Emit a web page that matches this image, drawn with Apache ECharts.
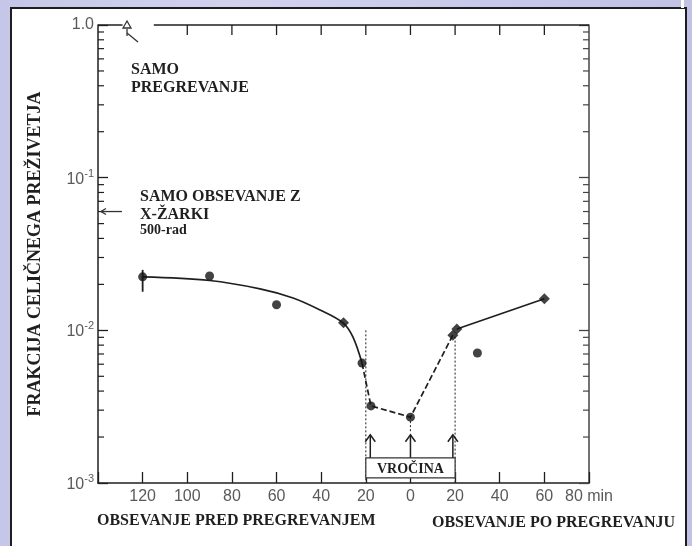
<!DOCTYPE html>
<html>
<head>
<meta charset="utf-8">
<script src="https://cdn.jsdelivr.net/npm/echarts@6/dist/echarts.min.js"></script>
<style>
  html, body { margin: 0; padding: 0; width: 692px; height: 546px; overflow: hidden; }
  body { position: relative; background: linear-gradient(90deg, #c6c6e8 0%, #d2d2ef 35%, #c8c8ea 70%, #c2c2e4 100%); }
  #panel { position: absolute; left: 10px; top: 7px; width: 673px; height: 560px; background: #fff;
           border: 2px solid #1e1e1e; border-bottom: none; }
  #notch { position: absolute; left: 681px; top: 0; width: 3px; height: 8px; background: #fff; }
  #chart { position: absolute; left: 0; top: 0; width: 692px; height: 546px; }
</style>
</head>
<body>
<div id="panel"></div>
<div id="notch"></div>
<div id="chart"></div>
<script>
// Measured surviving fractions (time in minutes relative to heating)
const obsTime = [-120, -90, -60, -30, -21.7, -17.7, 0, 19, 20.8, 30, 60];
const obsFrac = [0.0224, 0.0227, 0.0147, 0.0112, 0.0061, 0.0032, 0.0027, 0.0093, 0.0102, 0.0071, 0.0161];
const diamondTimes = [-30, 19, 20.8, 60];

// Error bar on the first measurement
const errTime = [-120];
const errHigh = [0.0249];
const errLow = [0.0179];

// Fitted curve: irradiation before heating
const fitTime = [-120, -90, -67.4, -52.6, -40.5, -30.2, -25.8, -21.7];
const fitFrac = [0.0224, 0.0212, 0.0187, 0.0163, 0.0136, 0.0112, 0.00906, 0.0061];

// Dashed path through the heating interval
const heatTime = [-21.7, -17.7, 0, 19];
const heatFrac = [0.0061, 0.0032, 0.0027, 0.0093];

// Irradiation after heating
const afterTime = [20.8, 60];
const afterFrac = [0.0102, 0.0161];

// Dotted guide lines
const guideTime = [-20, 0, 20];
const guideTop = [0.0100, 0.0027, 0.0091];
const guideBottom = [0.001, 0.00213, 0.001];

// Heating marker arrows and box
const arrowTime = [-18, 0, 19];
const arrowTip = 0.00207;
const heatStart = -20, heatEnd = 20;
const boxTop = 0.00146, boxBottom = 0.00108;

// Reference levels marked on the axis
const xrayOnlyFrac = 0.06;
const heatOnlyTime = -127, heatOnlyFrac = 1.0;

// Axes
const xMin = -140, xMax = 80, xStep = 20;
const yMin = 0.001, yMax = 1;
const topTicks = [-100, -80, -60, -40, -20, 0, 20, 40, 60];
const topFrame = [[-140, -129], [-115, 80]];
const minorTicks = [];
[0.001, 0.01, 0.1].forEach(d => { for (let k = 2; k <= 9; k++) minorTicks.push(+(d * k).toPrecision(3)); });

const ink = '#1f1f1f';
const serif = "'Liberation Serif', 'DejaVu Serif', serif";
const sans = "'Liberation Sans', Arial, sans-serif";

const zip = (a, b) => a.map((v, i) => [v, b[i]]);

const chart = echarts.init(document.getElementById('chart'), null, { renderer: 'canvas' });

const option = {
  backgroundColor: 'transparent',
  animation: false,
  grid: { left: 98, top: 25, width: 491, height: 458, containLabel: false },
  xAxis: [{
    type: 'value', min: xMin, max: xMax, interval: xStep,
    axisLine: { onZero: false, lineStyle: { color: ink, width: 1.5 } },
    axisTick: { inside: true, length: 11, lineStyle: { color: ink, width: 1.3 } },
    splitLine: { show: false },
    axisLabel: {
      margin: 6, color: '#5a5a5a', fontFamily: sans, fontSize: 16,
      formatter: v => v === xMin ? '' : (v === xMax ? '80 min' : String(Math.abs(v)))
    }
  }],
  yAxis: [{
    type: 'log', logBase: 10, min: yMin, max: yMax, position: 'left',
    name: 'FRAKCIJA CELIČNEGA PREŽIVETJA', nameLocation: 'middle', nameGap: 54, nameRotate: 90,
    nameTextStyle: { fontFamily: serif, fontWeight: 'bold', fontSize: 18, color: ink },
    axisLine: { onZero: false, lineStyle: { color: ink, width: 1.5 } },
    axisTick: { inside: true, length: 10, lineStyle: { color: ink, width: 1.3 } },
    splitLine: { show: false },
    axisLabel: {
      margin: 4, color: '#5a5a5a',
      formatter: v => v >= 1 ? '{n|1.0}' : '{n|10}{s|' + Math.round(Math.log10(v)) + '}',
      rich: {
        n: { fontFamily: sans, fontSize: 16, color: '#5a5a5a', verticalAlign: 'bottom' },
        s: { fontFamily: sans, fontSize: 11, color: '#5a5a5a', verticalAlign: 'bottom', padding: [0, 0, 8, 0] }
      }
    }
  }, {
    type: 'log', logBase: 10, min: yMin, max: yMax, position: 'right',
    axisLine: { onZero: false, lineStyle: { color: '#444', width: 1.5 } },
    axisTick: { inside: true, length: 10, lineStyle: { color: '#444', width: 1.3 } },
    splitLine: { show: false },
    axisLabel: { show: false }
  }],
  series: [
    // top border with its inward ticks
    {
      type: 'custom', coordinateSystem: 'cartesian2d', z: 1, silent: true,
      data: topFrame,
      encode: { x: [0, 1] },
      renderItem: (params, api) => {
        const cs = params.coordSys;
        const a = api.coord([api.value(0), yMax])[0];
        const b = api.coord([api.value(1), yMax])[0];
        const kids = [{ type: 'line', shape: { x1: a, y1: cs.y, x2: b, y2: cs.y }, style: { stroke: ink, lineWidth: 1.5 } }];
        if (params.dataIndex === topFrame.length - 1) {
          topTicks.forEach(t => {
            const x = api.coord([t, yMax])[0];
            kids.push({ type: 'line', shape: { x1: x, y1: cs.y, x2: x, y2: cs.y + 10 }, style: { stroke: ink, lineWidth: 1.3 } });
          });
        }
        return { type: 'group', children: kids };
      }
    },
    // minor log ticks on both vertical axes
    {
      type: 'custom', coordinateSystem: 'cartesian2d', z: 1, silent: true,
      data: minorTicks.map(v => [xMin, v]),
      renderItem: (params, api) => {
        const cs = params.coordSys;
        const y = api.coord([xMin, api.value(1)])[1];
        return { type: 'group', children: [
          { type: 'line', shape: { x1: cs.x, y1: y, x2: cs.x + 6, y2: y }, style: { stroke: ink, lineWidth: 1.2 } },
          { type: 'line', shape: { x1: cs.x + cs.width, y1: y, x2: cs.x + cs.width - 6, y2: y }, style: { stroke: '#444', lineWidth: 1.2 } }
        ] };
      }
    },
    // dotted guides
    {
      type: 'custom', coordinateSystem: 'cartesian2d', z: 2, silent: true,
      data: guideTime.map((t, i) => [t, guideTop[i], guideBottom[i]]),
      encode: { x: 0, y: [1, 2] },
      renderItem: (params, api) => {
        const p1 = api.coord([api.value(0), api.value(1)]);
        const p2 = api.coord([api.value(0), api.value(2)]);
        return { type: 'line', shape: { x1: p1[0], y1: p1[1], x2: p2[0], y2: p2[1] },
                 style: { stroke: '#333', lineWidth: 1.1, lineDash: [2, 2] } };
      }
    },
    // fitted curve
    {
      type: 'line', data: zip(fitTime, fitFrac), smooth: 0.35, symbol: 'none', z: 3,
      lineStyle: { color: ink, width: 1.7 }
    },
    // heating interval path
    {
      type: 'line', data: zip(heatTime, heatFrac), symbol: 'none', z: 3,
      lineStyle: { color: ink, width: 1.7, type: [6, 3] }
    },
    // after heating
    {
      type: 'line', data: zip(afterTime, afterFrac), symbol: 'none', z: 3,
      lineStyle: { color: ink, width: 1.7 }
    },
    // error bar
    {
      type: 'custom', coordinateSystem: 'cartesian2d', z: 3, silent: true,
      data: errTime.map((t, i) => [t, errHigh[i], errLow[i]]),
      encode: { x: 0, y: [1, 2] },
      renderItem: (params, api) => {
        const p1 = api.coord([api.value(0), api.value(1)]);
        const p2 = api.coord([api.value(0), api.value(2)]);
        return { type: 'line', shape: { x1: p1[0], y1: p1[1], x2: p2[0], y2: p2[1] },
                 style: { stroke: ink, lineWidth: 1.8 } };
      }
    },
    // measured points
    {
      type: 'scatter', data: zip(obsTime, obsFrac), z: 4,
      symbol: v => diamondTimes.includes(v[0]) ? 'diamond' : 'circle',
      symbolSize: v => diamondTimes.includes(v[0]) ? 11 : 9,
      itemStyle: { color: '#141414' }
    },
    // heating arrows
    {
      type: 'custom', coordinateSystem: 'cartesian2d', z: 4, silent: true,
      data: arrowTime.map(t => [t, arrowTip, boxTop]),
      encode: { x: 0, y: [1, 2] },
      renderItem: (params, api) => {
        const tip = api.coord([api.value(0), api.value(1)]);
        const base = api.coord([api.value(0), api.value(2)]);
        const s = { stroke: ink, lineWidth: 1.5, fill: null };
        return { type: 'group', children: [
          { type: 'line', shape: { x1: tip[0], y1: tip[1], x2: base[0], y2: base[1] }, style: s },
          { type: 'polyline', shape: { points: [[tip[0] - 5, tip[1] + 7], [tip[0], tip[1]], [tip[0] + 5, tip[1] + 7]] }, style: s }
        ] };
      }
    },
    // heating box
    {
      type: 'custom', coordinateSystem: 'cartesian2d', z: 5, silent: true,
      data: [[heatStart, boxTop, heatEnd, boxBottom]],
      encode: { x: [0, 2], y: [1, 3] },
      renderItem: (params, api) => {
        const a = api.coord([api.value(0), api.value(1)]);
        const b = api.coord([api.value(2), api.value(3)]);
        return { type: 'group', children: [
          { type: 'rect', shape: { x: a[0], y: a[1], width: b[0] - a[0], height: b[1] - a[1] },
            style: { fill: '#fff', stroke: '#333', lineWidth: 1.2 } },
          { type: 'text', style: { x: (a[0] + b[0]) / 2, y: (a[1] + b[1]) / 2 + 1, text: 'VROČINA',
            align: 'center', verticalAlign: 'middle', font: 'bold 14px ' + serif, fill: ink } }
        ] };
      }
    },
    // reference markers on the vertical axis: X-ray alone arrow, heat alone triangle
    {
      type: 'custom', coordinateSystem: 'cartesian2d', z: 4, silent: true,
      data: [[xMin, xrayOnlyFrac, heatOnlyTime, heatOnlyFrac]],
      renderItem: (params, api) => {
        const p = api.coord([api.value(0), api.value(1)]);
        const q = api.coord([api.value(2), api.value(3)]);
        const s = { stroke: '#333', lineWidth: 1.3, fill: null };
        return { type: 'group', children: [
          { type: 'line', shape: { x1: p[0] + 3, y1: p[1], x2: p[0] + 24, y2: p[1] }, style: s },
          { type: 'polyline', shape: { points: [[p[0] + 8, p[1] - 3], [p[0] + 3, p[1]], [p[0] + 8, p[1] + 3]] }, style: s },
          { type: 'polygon', shape: { points: [[q[0], q[1] - 4], [q[0] - 4, q[1] + 3], [q[0] + 4, q[1] + 3]] },
            style: { stroke: '#333', lineWidth: 1.3, fill: '#fff' } },
          { type: 'line', shape: { x1: q[0], y1: q[1] + 4, x2: q[0], y2: q[1] + 11 }, style: s },
          { type: 'line', shape: { x1: q[0], y1: q[1] + 8, x2: q[0] + 11, y2: q[1] + 17 }, style: s }
        ] };
      }
    }
  ],
  graphic: [
    { type: 'text', left: 131, top: 61, style: { text: 'SAMO\nPREGREVANJE', font: 'bold 16px ' + serif, fill: ink, lineHeight: 18 } },
    { type: 'text', left: 140, top: 188, style: { text: 'SAMO OBSEVANJE Z\nX-ŽARKI', font: 'bold 16px ' + serif, fill: ink, lineHeight: 18 } },
    { type: 'text', left: 140, top: 223, style: { text: '500-rad', font: 'bold 14px ' + serif, fill: ink } },
    { type: 'text', left: 97, top: 513, style: { text: 'OBSEVANJE PRED PREGREVANJEM', font: 'bold 16px ' + serif, fill: ink } },
    { type: 'text', left: 432, top: 515, style: { text: 'OBSEVANJE PO PREGREVANJU', font: 'bold 16px ' + serif, fill: ink } }
  ]
};

chart.setOption(option);
</script>
</body>
</html>
